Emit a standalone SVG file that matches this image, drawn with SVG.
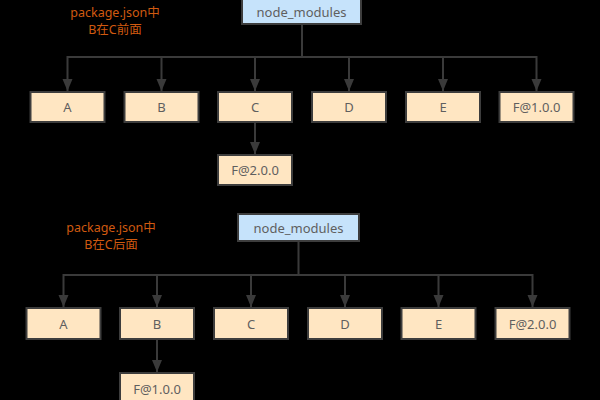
<svg xmlns="http://www.w3.org/2000/svg" width="600" height="400" viewBox="0 0 600 400">
<defs>
<style>
.bg{fill:#000}
.pkg rect{fill:#ffe6c2;stroke:#3d3d3d;stroke-width:2}
.nm rect{fill:#c6e3fb;stroke:#3d3d3d;stroke-width:2}
.pkg text,.nm text{font-family:"Noto Sans","Noto Sans CJK SC",sans-serif;font-size:13px;fill:#5f5f5f;text-anchor:middle;dominant-baseline:central}
.lbl{font-family:"Noto Sans","Noto Sans CJK SC",sans-serif;font-size:12.5px;fill:#d05a10;text-anchor:middle}
#connectors path{fill:none;stroke:#3a3a3a;stroke-width:2}
</style>
<marker id="arr" markerUnits="userSpaceOnUse" markerWidth="14" markerHeight="14" viewBox="0 0 14 14" refX="12" refY="7" orient="auto">
<path d="M0,2 L12,7 L0,12 Z" fill="#3a3a3a"/>
</marker>
</defs>
<rect class="bg" x="0" y="0" width="600" height="400"/>

<g id="connectors">
<path d="M302,24 V57 H67.5 V91" marker-end="url(#arr)"/>
<path d="M302,57 H161.5 V91" marker-end="url(#arr)"/>
<path d="M302,57 H255 V91" marker-end="url(#arr)"/>
<path d="M302,57 H349 V91" marker-end="url(#arr)"/>
<path d="M302,57 H443 V91" marker-end="url(#arr)"/>
<path d="M302,57 H536.5 V91" marker-end="url(#arr)"/>
<path d="M255,122 V154" marker-end="url(#arr)"/>
<path d="M298.5,241 V275 H63.5 V307" marker-end="url(#arr)"/>
<path d="M298.5,275 H157 V307" marker-end="url(#arr)"/>
<path d="M298.5,275 H251 V307" marker-end="url(#arr)"/>
<path d="M298.5,275 H345 V307" marker-end="url(#arr)"/>
<path d="M298.5,275 H438.5 V307" marker-end="url(#arr)"/>
<path d="M298.5,275 H532.5 V307" marker-end="url(#arr)"/>
<path d="M157,339 V372" marker-end="url(#arr)"/>
</g>

<g id="label1"><text class="lbl" x="115" y="16.5">package.json中</text><text class="lbl" x="115" y="33.5">B在C前面</text></g>
<g id="label2"><text class="lbl" x="111" y="232">package.json中</text><text class="lbl" x="111" y="249">B在C后面</text></g>

<g id="nm1" class="nm"><rect x="242" y="-4" width="119" height="28"/><text x="301.5" y="12">node_modules</text></g>
<g id="a1" class="pkg"><rect x="30.5" y="92" width="74" height="30"/><text x="67.5" y="107">A</text></g>
<g id="b1" class="pkg"><rect x="124.5" y="92" width="74" height="30"/><text x="161.5" y="107">B</text></g>
<g id="c1" class="pkg"><rect x="218" y="92" width="74" height="30"/><text x="255" y="107">C</text></g>
<g id="d1" class="pkg"><rect x="312" y="92" width="74" height="30"/><text x="349" y="107">D</text></g>
<g id="e1" class="pkg"><rect x="406" y="92" width="74" height="30"/><text x="443" y="107">E</text></g>
<g id="f1" class="pkg"><rect x="499.5" y="92" width="74" height="30"/><text x="536.5" y="107">F@1.0.0</text></g>
<g id="f2c" class="pkg"><rect x="218" y="155" width="74" height="30"/><text x="255" y="170">F@2.0.0</text></g>

<g id="nm2" class="nm"><rect x="238" y="214" width="121" height="27"/><text x="298.5" y="228">node_modules</text></g>
<g id="a2" class="pkg"><rect x="26.5" y="308" width="74" height="31"/><text x="63.5" y="323.5">A</text></g>
<g id="b2" class="pkg"><rect x="120" y="308" width="74" height="31"/><text x="157" y="323.5">B</text></g>
<g id="c2" class="pkg"><rect x="214" y="308" width="74" height="31"/><text x="251" y="323.5">C</text></g>
<g id="d2" class="pkg"><rect x="308" y="308" width="74" height="31"/><text x="345" y="323.5">D</text></g>
<g id="e2" class="pkg"><rect x="401.5" y="308" width="74" height="31"/><text x="438.5" y="323.5">E</text></g>
<g id="f2" class="pkg"><rect x="495.5" y="308" width="74" height="31"/><text x="532.5" y="323.5">F@2.0.0</text></g>
<g id="f1b" class="pkg"><rect x="120" y="373" width="74" height="31"/><text x="157" y="388.5">F@1.0.0</text></g>
</svg>
